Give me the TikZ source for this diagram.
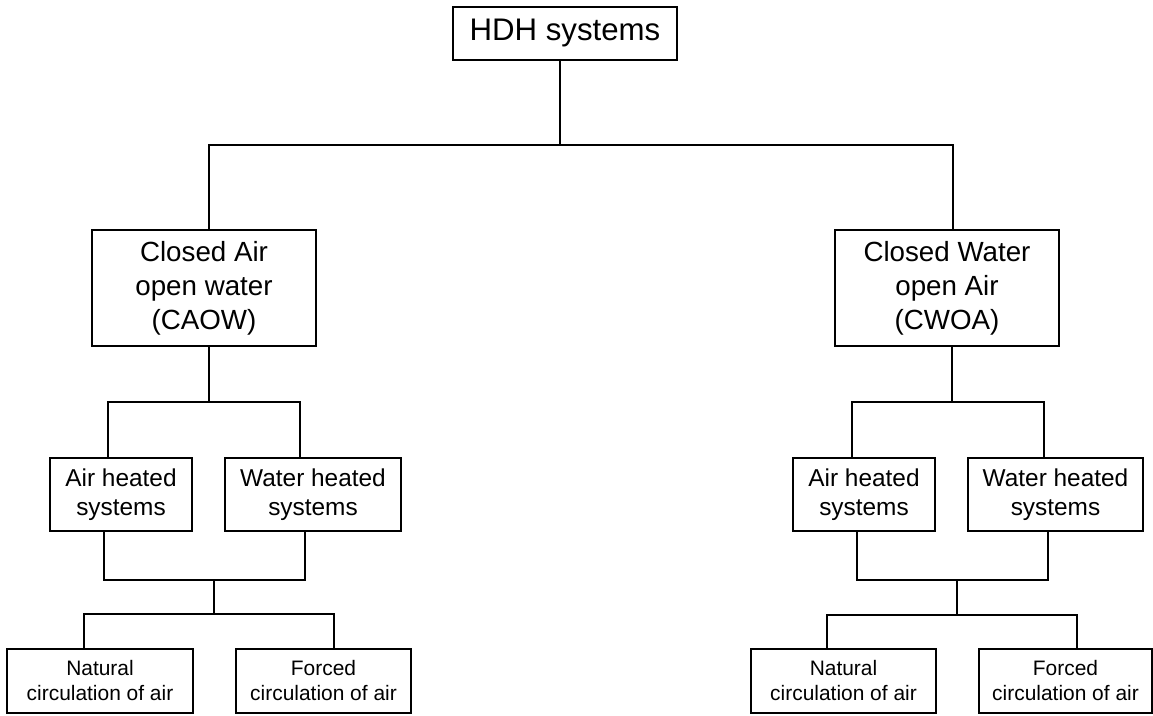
\documentclass[tikz,border=0pt]{standalone}
\usepackage{fontspec}
\setmainfont{Liberation Sans}
\begin{document}
\begin{tikzpicture}[x=0.75pt,y=-0.75pt,
  box/.style={draw=black,line width=0.9pt,inner sep=0pt,align=center,text=black},
  topbox/.style={box,minimum width=168pt,minimum height=39.75pt,font=\fontsize{23.4}{28}\selectfont},
  midbox/.style={box,minimum width=168pt,minimum height=87pt,font=\fontsize{20.8}{25.5}\selectfont},
  subbox/.style={box,minimum height=54.75pt,font=\fontsize{18.3}{21.75}\selectfont},
  leafbox/.style={box,minimum height=48pt,font=\fontsize{15.7}{18.75}\selectfont},
  conn/.style={draw=black,line width=0.9pt}]
\useasboundingbox (0,0) rectangle (1153,715);
% nodes
\node[topbox] (hdh) at (565,33.5) {HDH systems};
\node[midbox] (caow) at (204,288) {Closed Air\\open water\\(CAOW)};
\node[midbox] (cwoa) at (947,288) {Closed Water\\open Air\\(CWOA)};
\node[subbox,minimum width=106.5pt] (airL) at (121,494.5) {Air heated\\systems};
\node[subbox,minimum width=132pt] (watL) at (313,494.5) {Water heated\\systems};
\node[subbox,minimum width=106.5pt] (airR) at (864,494.5) {Air heated\\systems};
\node[subbox,minimum width=131.25pt] (watR) at (1055.5,494.5) {Water heated\\systems};
\node[leafbox,minimum width=139.5pt] (natL) at (100,681) {Natural\\circulation of air};
\node[leafbox,minimum width=131.25pt] (forL) at (323.5,681) {Forced\\circulation of air};
\node[leafbox,minimum width=138.75pt] (natR) at (843.5,681) {Natural\\circulation of air};
\node[leafbox,minimum width=129.75pt] (forR) at (1065.5,681) {Forced\\circulation of air};
% junction coordinates
\coordinate (j0) at (560,145);
\coordinate (j1) at (209,145);
\coordinate (j2) at (953,145);
\coordinate (k0) at (209,402);
\coordinate (kL) at (108,402);
\coordinate (kR) at (300,402);
\coordinate (mL) at (104,580);
\coordinate (mR) at (305,580);
\coordinate (m0) at (214,580);
\coordinate (n0) at (214,614);
\coordinate (nL) at (84,614);
\coordinate (nR) at (334,614);
\coordinate (rk0) at (952,402);
\coordinate (rkL) at (852,402);
\coordinate (rkR) at (1044,402);
\coordinate (rmL) at (857,580);
\coordinate (rmR) at (1048,580);
\coordinate (rm0) at (957,580);
\coordinate (rn0) at (957,615);
\coordinate (rnL) at (827,615);
\coordinate (rnR) at (1077,615);
% connectors
\draw[conn] (hdh.south -| j0) -- (j0);
\draw[conn] (caow.north -| j1) -- (j1) -- (j2) -- (cwoa.north -| j2);
% left branch
\draw[conn] (caow.south -| k0) -- (k0);
\draw[conn] (airL.north -| kL) -- (kL) -- (kR) -- (watL.north -| kR);
\draw[conn] (airL.south -| mL) -- (mL) -- (mR) -- (watL.south -| mR);
\draw[conn] (m0) -- (n0);
\draw[conn] (natL.north -| nL) -- (nL) -- (nR) -- (forL.north -| nR);
% right branch
\draw[conn] (cwoa.south -| rk0) -- (rk0);
\draw[conn] (airR.north -| rkL) -- (rkL) -- (rkR) -- (watR.north -| rkR);
\draw[conn] (airR.south -| rmL) -- (rmL) -- (rmR) -- (watR.south -| rmR);
\draw[conn] (rm0) -- (rn0);
\draw[conn] (natR.north -| rnL) -- (rnL) -- (rnR) -- (forR.north -| rnR);
\end{tikzpicture}
\end{document}
